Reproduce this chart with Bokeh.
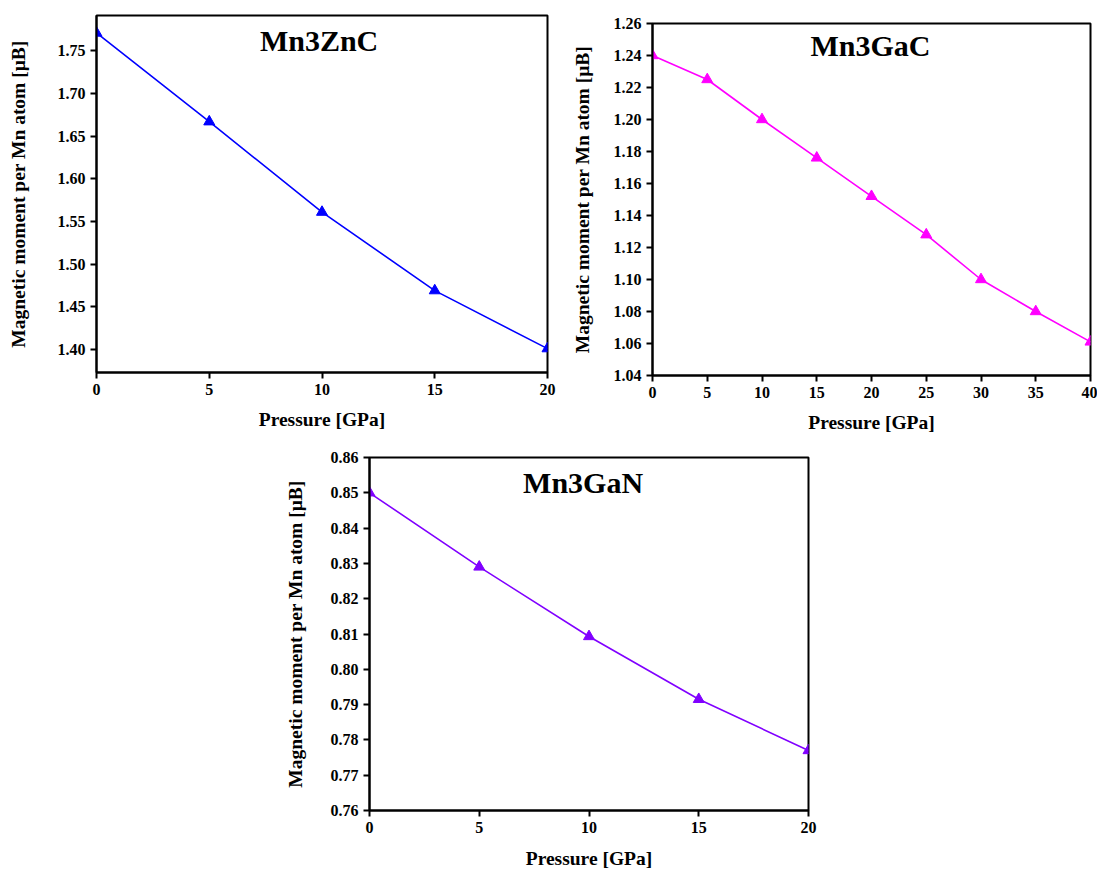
from bokeh.plotting import figure
from bokeh.layouts import column, row
from bokeh.models import FixedTicker, Label, Range1d, Spacer
from bokeh.embed import file_html
from bokeh.resources import INLINE

# ---- data ----
zn_pressure = [0, 5, 10, 15, 20]
zn_moment = [1.771, 1.667, 1.561, 1.469, 1.401]

gac_pressure = [0, 5, 10, 15, 20, 25, 30, 35, 40]
gac_moment = [1.240, 1.225, 1.200, 1.176, 1.152, 1.128, 1.100, 1.080, 1.061]

gan_pressure = [0, 5, 10, 15, 20]
gan_moment = [0.850, 0.829, 0.8093, 0.7915, 0.777]

zn_xticks = [0, 5, 10, 15, 20]
zn_yticks = [1.40, 1.45, 1.50, 1.55, 1.60, 1.65, 1.70, 1.75]
gac_xticks = [0, 5, 10, 15, 20, 25, 30, 35, 40]
gac_yticks = [1.04, 1.06, 1.08, 1.10, 1.12, 1.14, 1.16, 1.18, 1.20, 1.22, 1.24, 1.26]
gan_xticks = [0, 5, 10, 15, 20]
gan_yticks = [0.76, 0.77, 0.78, 0.79, 0.80, 0.81, 0.82, 0.83, 0.84, 0.85, 0.86]

titles = ["Mn3ZnC", "Mn3GaC", "Mn3GaN"]
x_label = "Pressure [GPa]"
y_label = "Magnetic moment per Mn atom [\u03bcB]"

FONT = "Liberation Serif"


def make_panel(xs, ys, color, xticks, yticks, xr, yr, title, tpos,
               width, height, bl, bt, br, bb, ylab_off, xlab_off):
    p = figure(width=width, height=height, output_backend="svg", title=None,
               toolbar_location=None, x_range=Range1d(*xr), y_range=Range1d(*yr),
               min_border_left=bl, min_border_top=bt, min_border_right=br,
               min_border_bottom=bb)
    p.xgrid.visible = False
    p.ygrid.visible = False
    p.outline_line_color = "black"
    p.outline_line_width = 2
    p.outline_line_alpha = 1
    p.background_fill_color = "white"
    p.border_fill_color = "white"
    for ax, ticks in ((p.xaxis[0], xticks), (p.yaxis[0], yticks)):
        ax.ticker = FixedTicker(ticks=ticks)
        ax.axis_line_width = 2
        ax.axis_line_color = "black"
        ax.major_tick_line_width = 2
        ax.major_tick_line_color = "black"
        ax.major_tick_out = 6
        ax.major_tick_in = 0
        ax.minor_tick_line_color = None
        ax.major_label_text_font = FONT
        ax.major_label_text_font_style = "bold"
        ax.major_label_text_font_size = "16px"
        ax.major_label_text_color = "black"
        ax.axis_label_text_font = FONT
        ax.axis_label_text_font_style = "bold"
        ax.axis_label_text_font_size = "19.5px"
        ax.axis_label_text_color = "black"
    p.xaxis[0].major_label_overrides = {t: "%d" % t for t in xticks}
    p.yaxis[0].major_label_overrides = {t: "%.2f" % t for t in yticks}
    p.xaxis[0].axis_label = x_label
    p.yaxis[0].axis_label = y_label
    p.xaxis[0].major_label_standoff = 5
    p.xaxis[0].axis_label_standoff = xlab_off
    p.yaxis[0].major_label_standoff = 5
    p.yaxis[0].axis_label_standoff = ylab_off
    p.line(xs, ys, line_color=color, line_width=1.6)
    p.scatter(xs, ys, marker="triangle", size=11, fill_color=color,
              line_color=color)
    p.add_layout(Label(x=tpos[0], y=tpos[1], text=title, text_font=FONT,
                       text_font_style="bold", text_font_size="30px",
                       text_align="center", text_baseline="alphabetic",
                       text_color="black"))
    return p


p1 = make_panel(zn_pressure, zn_moment, "#0000FF", zn_xticks, zn_yticks,
                (0, 20), (1.373, 1.7915), titles[0], (9.87, 1.762),
                560, 444, 96, 15, 13, 72, 26, 11)
p2 = make_panel(gac_pressure, gac_moment, "#FF00FF", gac_xticks, gac_yticks,
                (0, 40), (1.04, 1.26), titles[1], (19.9, 1.2463),
                537, 437, 92, 16, 7, 69, 18, 11)
p3 = make_panel(gan_pressure, gan_moment, "#8000FF", gan_xticks, gan_yticks,
                (0, 20), (0.76, 0.86), titles[2], (9.73, 0.8528),
                563, 427, 109, 13, 15, 60, 22, 12)

layout = column(row(p1, column(Spacer(width=537, height=7), p2)),
                row(Spacer(width=260, height=10), p3))
open("out.html", "w").write(file_html(layout, INLINE))
